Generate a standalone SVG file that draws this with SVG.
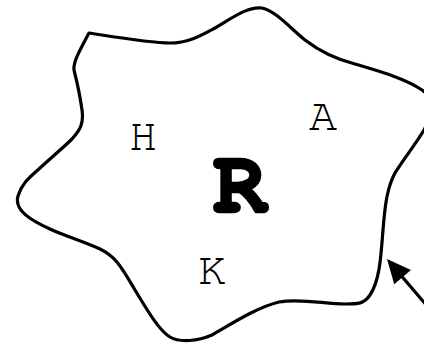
<svg xmlns="http://www.w3.org/2000/svg" width="424" height="343" viewBox="0 0 424 343">
<style>
.lbl{font-family:FreeMono,"Liberation Mono",monospace;font-size:47px;fill:#000;text-anchor:middle}
.big{font-family:FreeMono,"Liberation Mono",monospace;font-size:90px;font-weight:bold;fill:#000;stroke:#000;stroke-width:2.5;stroke-linejoin:round;text-anchor:middle}
.ln{fill:none;stroke:#000;stroke-width:3.2;stroke-linejoin:round;stroke-linecap:round}
</style>
<defs>
<marker id="ah" markerUnits="userSpaceOnUse" markerWidth="24" markerHeight="22" viewBox="0 -11 24 22" refX="12" refY="0" orient="auto" overflow="visible">
<path d="M0,-11 L24,0 L0,11 z" fill="#000"/>
</marker>
</defs>
<rect width="424" height="343" fill="#fff"/>
<g id="region">
<path class="ln" d="M89,33 C115,37 150,43 170,43 C188,43 200,36 215,28 C232,18 248,6 262,8 C276,11 290,28 305,40 C318,50 335,59 355,64 C375,70 405,78 422,90 C436,100 432,115 424,130 C415,145 403,160 395,173 C387,188 385,205 383,230 C381,255 380,280 370,295 C364,304 358,304 345,304 C325,304 300,298 279,302 C255,308 230,325 212,335 C198,341 180,343 170,337 C160,331 150,315 135,290 C123,270 117,257 100,249 C85,242 65,236 50,229 C30,220 14,210 18,196 C22,183 30,177 40,168 C52,157 65,146 72,139 C80,130 84,124 82,110 C80,95 76,78 74,70 C73,62 80,50 89,33 Z"/>
</g>
<g id="label-H"><text class="lbl" x="143" y="150">H</text></g>
<g id="label-A"><text class="lbl" x="323" y="130">A</text></g>
<g id="label-K"><text class="lbl" x="212" y="284">K</text></g>
<g id="label-R"><text class="big" x="241" y="212">R</text></g>
<g id="connectors">
<line class="ln" x1="439" y1="320" x2="394.8" y2="268.1" stroke-linecap="butt" marker-end="url(#ah)"/>
</g>
</svg>
